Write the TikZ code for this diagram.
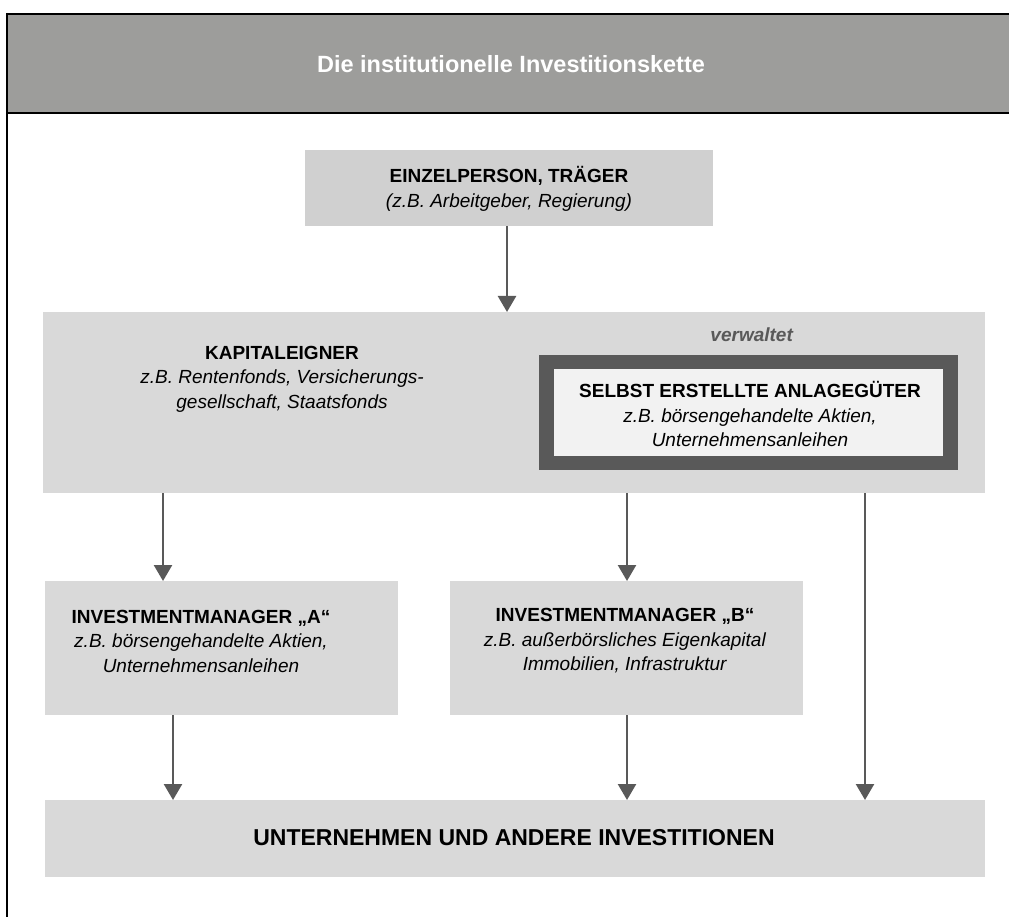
\documentclass[tikz,border=0pt]{standalone}
\usepackage{fontspec}
\setmainfont{Liberation Sans}
\usetikzlibrary{arrows.meta}
\definecolor{headgray}{HTML}{9D9D9B}
\definecolor{boxgray}{HTML}{D9D9D9}
\definecolor{topgray}{HTML}{D0D0D0}
\definecolor{darkgrey}{HTML}{595959}
\definecolor{paleface}{HTML}{F2F2F2}
\begin{document}
\begin{tikzpicture}[x=1pt,y=-1pt,
  box/.style={fill=boxgray, draw=none, inner sep=0pt, outer sep=0pt, anchor=north west},
  txt/.style={align=center, inner sep=0pt, font=\fontsize{19}{24.5}\selectfont},
  flow/.style={draw=darkgrey, line width=2.5pt, -{Triangle[width=18pt,length=16pt]}},
]
\useasboundingbox (0,0) rectangle (1009,917);

% header band and frame
\fill[headgray] (7,14) rectangle (1009,113);
\draw[line width=2pt] (1009,14) -- (7,14);
\draw[line width=2pt] (7,113) -- (1009,113);
\draw[line width=2.5pt] (7,13) -- (7,917);
\node[font=\fontsize{23.5}{28}\selectfont\bfseries, text=white] (ttl) at (511,64) {Die institutionelle Investitionskette};

% boxes
\node[box, fill=topgray, minimum width=408pt, minimum height=76pt] (top) at (305,150) {};
\node[box, minimum width=942pt, minimum height=181pt] (kap) at (43,312) {};
\node[box, fill=darkgrey, minimum width=419pt, minimum height=115pt] (selo) at (539,355) {};
\node[box, fill=paleface, minimum width=389pt, minimum height=87pt] (seli) at (554,369) {};
\node[box, minimum width=353pt, minimum height=134pt] (ima) at (45,581) {};
\node[box, minimum width=353pt, minimum height=134pt] (imb) at (450,581) {};
\node[box, minimum width=940pt, minimum height=77pt] (unt) at (45,800) {};

% texts
\node[txt] (toptxt) at (509,189) {\textbf{EINZELPERSON, TRÄGER}\\\textit{(z.B. Arbeitgeber, Regierung)}};
\node[txt] (kaptxt) at (282,379) {\textbf{KAPITALEIGNER}\\\textit{z.B. Rentenfonds, Versicherungs-}\\\textit{gesellschaft, Staatsfonds}};
\node[txt, text=darkgrey] (verw) at (752,335) {\textbf{\textit{verwaltet}}};
\node[txt] (seltxt) at (750,414) {\textbf{SELBST ERSTELLTE ANLAGEGÜTER}\\\textit{z.B. börsengehandelte Aktien,}\\\textit{Unternehmensanleihen}};
\node[txt] (imatxt) at (201,641) {\textbf{INVESTMENTMANAGER „A“}\\\textit{z.B. börsengehandelte Aktien,}\\\textit{Unternehmensanleihen}};
\node[txt] (imbtxt) at (625,641) {\textbf{INVESTMENTMANAGER „B“}\\\textit{z.B. außerbörsliches Eigenkapital}\\\textit{Immobilien, Infrastruktur}};
\node[font=\fontsize{23}{28}\selectfont\bfseries, inner sep=0pt] (unttxt) at (514,838) {UNTERNEHMEN UND ANDERE INVESTITIONEN};

% connector columns
\coordinate (c0) at (507,0);
\coordinate (c1) at (163,0);
\coordinate (c2) at (627,0);
\coordinate (c3) at (865,0);
\coordinate (c4) at (173,0);

% connectors
\draw[flow] (top.south -| c0) -- (kap.north -| c0);
\draw[flow] (kap.south -| c1) -- (ima.north -| c1);
\draw[flow] (kap.south -| c2) -- (imb.north -| c2);
\draw[flow] (kap.south -| c3) -- (unt.north -| c3);
\draw[flow] (ima.south -| c4) -- (unt.north -| c4);
\draw[flow] (imb.south -| c2) -- (unt.north -| c2);
\end{tikzpicture}
\end{document}
